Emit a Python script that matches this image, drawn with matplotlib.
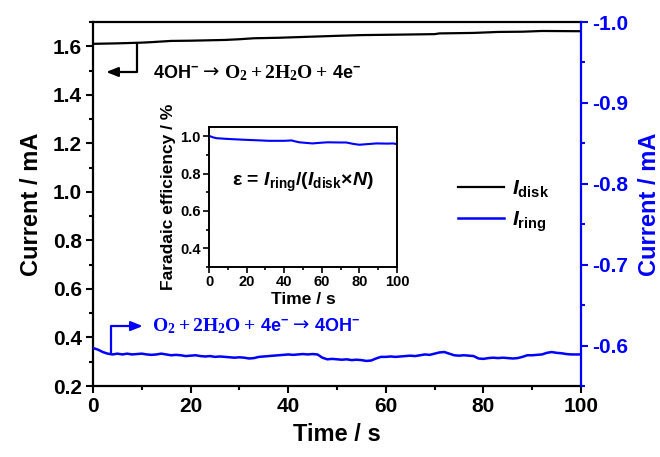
import matplotlib
matplotlib.use("Agg")
import matplotlib.pyplot as plt
from matplotlib.ticker import MultipleLocator, FormatStrFormatter
from matplotlib.offsetbox import TextArea, HPacker, AnnotationBbox

plt.rcParams['font.family'] = ['Liberation Sans', 'DejaVu Sans']
plt.rcParams['font.weight'] = 'bold'
plt.rcParams['axes.unicode_minus'] = False
plt.rcParams['mathtext.fontset'] = 'custom'
plt.rcParams['mathtext.rm'] = 'Liberation Serif'
plt.rcParams['mathtext.bf'] = 'Liberation Sans:bold'
plt.rcParams['mathtext.it'] = 'Liberation Sans:italic:bold'
plt.rcParams['mathtext.bfit'] = 'Liberation Sans:italic:bold'
plt.rcParams['mathtext.sf'] = 'Liberation Sans:bold'

BLUE = '#0000ff'

# ---- disk current (left axis, mA) ----
t_disk = [0, 5, 10, 12, 16, 20, 27, 30, 33, 38, 44, 50, 55, 63, 70, 71, 78, 83, 88, 92, 100]
i_disk = [1.610, 1.612, 1.615, 1.617, 1.622, 1.623, 1.626, 1.629, 1.633, 1.635, 1.639,
          1.643, 1.646, 1.648, 1.650, 1.653, 1.655, 1.659, 1.660, 1.663, 1.662]

# ---- ring current (right axis, mA), sampled every second ----
t_ring = list(range(0, 101))
i_ring = [-0.597, -0.595, -0.592, -0.590, -0.589, -0.590, -0.589, -0.590, -0.589, -0.5895,
          -0.590, -0.589, -0.5885, -0.589, -0.590, -0.589, -0.588, -0.5885, -0.588, -0.587,
          -0.5875, -0.588, -0.587, -0.5865, -0.587, -0.586, -0.5865, -0.586, -0.5855, -0.585,
          -0.5855, -0.585, -0.584, -0.5845, -0.586, -0.5865, -0.587, -0.5875, -0.588, -0.5885,
          -0.589, -0.5885, -0.589, -0.5895, -0.589, -0.5895, -0.589, -0.585, -0.583, -0.5835,
          -0.583, -0.5825, -0.583, -0.582, -0.5825, -0.582, -0.581, -0.5815, -0.584, -0.586,
          -0.586, -0.5865, -0.586, -0.5865, -0.587, -0.5875, -0.587, -0.588, -0.589, -0.5885,
          -0.590, -0.5915, -0.592, -0.590, -0.588, -0.5875, -0.588, -0.5875, -0.587, -0.584,
          -0.5835, -0.5845, -0.585, -0.5845, -0.585, -0.5845, -0.584, -0.5845, -0.586, -0.588,
          -0.588, -0.5885, -0.589, -0.591, -0.592, -0.591, -0.5905, -0.5895, -0.589, -0.589,
          -0.589]

# ---- Faradaic efficiency (inset) ----
t_eff = [0, 2, 4, 10, 18, 25, 32, 40, 44, 45, 48, 55, 60, 63, 70, 73, 77, 80, 84, 89, 95, 98, 100]
eff = [1.003, 0.995, 0.990, 0.986, 0.982, 0.979, 0.976, 0.976, 0.978, 0.975, 0.968, 0.962,
       0.966, 0.968, 0.967, 0.967, 0.959, 0.955, 0.958, 0.962, 0.961, 0.962, 0.958]

fig = plt.figure(figsize=(6.6, 4.57), dpi=100)
W, H = 660, 457
ax = fig.add_axes([93 / W, 1 - 386 / H, (581 - 93) / W, (386 - 22) / H])
ax2 = ax.twinx()

line_disk, = ax.plot(t_disk, i_disk, color='black', lw=1.6)
line_ring, = ax2.plot(t_ring, i_ring, color=BLUE, lw=1.8)

ax.set_xlim(0, 100)
ax.set_ylim(0.2, 1.7)
ax2.set_ylim(-0.55, -1.0)

ax.xaxis.set_major_locator(MultipleLocator(20))
ax.xaxis.set_minor_locator(MultipleLocator(10))
ax.yaxis.set_major_locator(MultipleLocator(0.2))
ax.yaxis.set_minor_locator(MultipleLocator(0.1))
ax2.yaxis.set_major_locator(MultipleLocator(0.1))
ax2.yaxis.set_minor_locator(MultipleLocator(0.05))
ax.yaxis.set_major_formatter(FormatStrFormatter('%.1f'))
ax2.yaxis.set_major_formatter(FormatStrFormatter('%.1f'))

for a in (ax, ax2):
    for s in a.spines.values():
        s.set_linewidth(1.6)
ax.spines['right'].set_visible(False)
ax2.spines['right'].set_color(BLUE)
ax2.spines['left'].set_visible(False)
ax2.spines['top'].set_visible(False)
ax2.spines['bottom'].set_visible(False)

ax.tick_params(axis='both', which='major', direction='out', length=5, width=1.5,
               labelsize=15, pad=3)
ax.tick_params(axis='both', which='minor', direction='out', length=3, width=1.5)
ax.tick_params(top=False, right=False, which='both')
ax2.tick_params(axis='y', which='major', direction='out', length=5, width=1.5,
                labelsize=15, colors=BLUE, pad=3)
ax2.tick_params(axis='y', which='minor', direction='out', length=3, width=1.5, colors=BLUE)

ax.set_xlabel('Time / s', fontsize=17, fontweight='bold', labelpad=5)
ax.set_ylabel('Current / mA', fontsize=17, fontweight='bold', labelpad=7)
ax2.set_ylabel('Current / mA', fontsize=17, fontweight='bold', color=BLUE, labelpad=7)


def reaction(parts, color, xy):
    """Lay out a reaction equation from (text, kind) pieces and place it at xy."""
    boxes = []
    for txt, kind in parts:
        if kind == 'arrow':
            props = dict(fontsize=14, family='DejaVu Sans', fontweight='normal', color=color)
        elif kind == 'serif':
            props = dict(fontsize=14, fontweight='bold', color=color)
        else:
            props = dict(fontsize=13, fontweight='bold', color=color)
        boxes.append(TextArea(txt, textprops=props))
    pack = HPacker(children=boxes, align='baseline', pad=0, sep=3)
    ab = AnnotationBbox(pack, xy, xycoords='data', box_alignment=(0, 0.5),
                        frameon=False, pad=0)
    ax.add_artist(ab)


# bent arrow pointing at the disk curve
ax.plot([9.0, 9.0, 4.2], [1.612, 1.494, 1.494], color='black', lw=1.6, solid_capstyle='butt')
ax.annotate('', xy=(2.7, 1.494), xytext=(4.5, 1.494),
            arrowprops=dict(arrowstyle='-|>,head_length=0.7,head_width=0.28',
                            color='black', lw=1.6, shrinkA=0, shrinkB=0))
reaction([(r'4OH$^{\mathbf{-}}$', 't'), ('→', 'arrow'),
          (r'$\mathrm{O_2 + 2H_2O +}$', 'serif'), (r'4e$^{\mathbf{-}}$', 't')],
         'black', (12.3, 1.49))

# bent arrow pointing at the ring curve
ax.plot([3.7, 3.7, 8.5], [0.332, 0.447, 0.447], color=BLUE, lw=1.6, solid_capstyle='butt')
ax.annotate('', xy=(10.2, 0.447), xytext=(8.2, 0.447),
            arrowprops=dict(arrowstyle='-|>,head_length=0.7,head_width=0.28',
                            color=BLUE, lw=1.6, shrinkA=0, shrinkB=0))
reaction([(r'$\mathrm{O_2 + 2H_2O +}$', 'serif'), (r'4e$^{\mathbf{-}}$', 't'),
          ('→', 'arrow'), (r'4OH$^{\mathbf{-}}$', 't')],
         BLUE, (12.1, 0.447))

leg = ax.legend([line_disk, line_ring],
                [r'$\mathbfit{I}_{\mathbf{disk}}$', r'$\mathbfit{I}_{\mathbf{ring}}$'],
                loc='upper left', bbox_to_anchor=(0.71, 0.622), frameon=False,
                fontsize=15, handlelength=2.2, handletextpad=0.4, labelspacing=0.45)

# inset: Faradaic efficiency
axin = fig.add_axes([209 / W, 1 - 267 / H, (397 - 209) / W, (267 - 127) / H])
axin.plot(t_eff, eff, color=BLUE, lw=1.5)
axin.set_xlim(0, 100)
axin.set_ylim(0.3, 1.05)
axin.xaxis.set_major_locator(MultipleLocator(20))
axin.xaxis.set_minor_locator(MultipleLocator(10))
axin.yaxis.set_major_locator(MultipleLocator(0.2))
axin.yaxis.set_minor_locator(MultipleLocator(0.1))
axin.yaxis.set_major_formatter(FormatStrFormatter('%.1f'))
for s in axin.spines.values():
    s.set_linewidth(1.4)
axin.tick_params(axis='both', which='major', direction='out', length=4, width=1.2,
                 labelsize=10.5, pad=2)
axin.tick_params(axis='both', which='minor', direction='out', length=2, width=1.2)
axin.set_xlabel('Time / s', fontsize=12.5, fontweight='bold', labelpad=2)
axin.set_ylabel('Faradaic efficiency / %', fontsize=12.5, fontweight='bold', labelpad=3)
axin.text(0.5, 0.607,
          r'ε = $\mathbfit{I}_{\mathbf{ring}}$/($\mathbfit{I}_{\mathbf{disk}}$×$\mathbfit{N}$)',
          transform=axin.transAxes, fontsize=14, fontweight='bold', ha='center', va='center')

fig.savefig('out.png', dpi=100)
